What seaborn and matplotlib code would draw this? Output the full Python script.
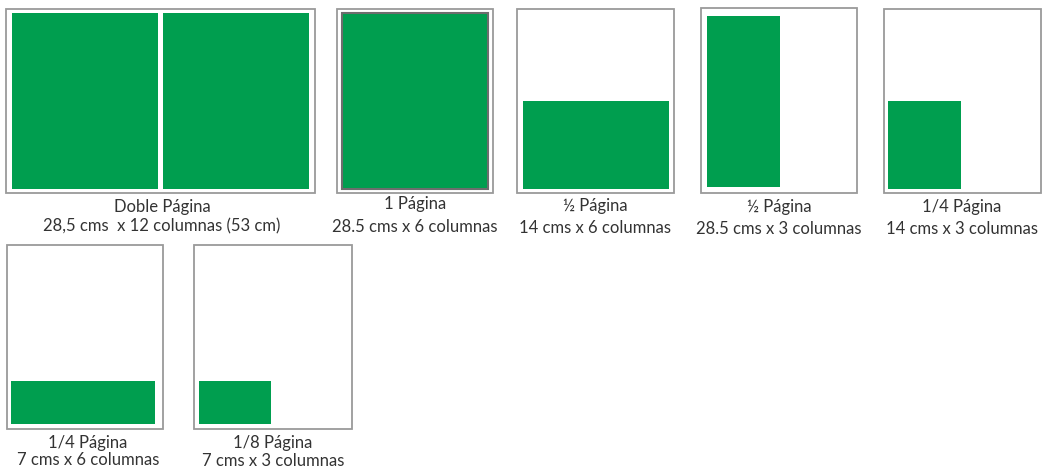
import matplotlib
matplotlib.use("Agg")
import matplotlib.pyplot as plt
import seaborn as sns

# page frames (left, top, right, bottom) in pixel units
frame_left = [6, 337, 517, 701, 884, 7, 194]
frame_top = [9, 9, 9, 8.5, 9, 245, 245]
frame_right = [315, 493, 674, 857, 1041, 163, 352]
frame_bottom = [193, 193, 193, 193, 193, 429, 429]

# green ad areas (left, top, right, bottom)
ad_left = [12, 163, 342, 523, 707, 888, 11, 199]
ad_top = [13, 13, 13, 101, 16, 101, 381, 381]
ad_right = [158, 309, 488, 669, 780, 961, 155, 271]
ad_bottom = [189, 189, 189, 189, 187, 189, 424, 424]
ad_edge = ["none", "none", "#6d6d6d", "none", "none", "none", "none", "none"]

# captions
titles = ["Doble Página", "1 Página", "½ Página", "½ Página",
          "1/4 Página", "1/4 Página", "1/8 Página"]
sizes = ["28,5 cms  x 12 columnas (53 cm)", "28.5 cms x 6 columnas",
         "14 cms x 6 columnas", "28.5 cms x 3 columnas",
         "14 cms x 3 columnas", "7 cms x 6 columnas", "7 cms x 3 columnas"]
title_x = [162, 415, 595, 779, 962, 88, 273]
title_y = [207, 204, 206, 207, 207, 443, 443]
size_y = [226, 227, 228, 229, 229, 460, 461]

sns.set_theme(style="white")
plt.rcParams["font.family"] = ["Lato", "DejaVu Sans"]

green = "#009e4f"
frame_color = "#9a9a9a"
text_color = "#333333"

fig = plt.figure(figsize=(10.42, 4.69), dpi=100)
ax = fig.add_axes([0, 0, 1, 1])

# frames
for i in range(len(frame_left)):
    ax.bar(frame_left[i], frame_bottom[i] - frame_top[i],
           width=frame_right[i] - frame_left[i], bottom=frame_top[i],
           align="edge", color="white", edgecolor=frame_color, linewidth=1.3)

# green areas
for i in range(len(ad_left)):
    ax.bar(ad_left[i], ad_bottom[i] - ad_top[i],
           width=ad_right[i] - ad_left[i], bottom=ad_top[i],
           align="edge", color=green,
           edgecolor=ad_edge[i], linewidth=1.5 if ad_edge[i] != "none" else 0)

for i in range(len(titles)):
    ax.text(title_x[i], title_y[i], titles[i], ha="center", va="center",
            fontsize=12, color=text_color)
    ax.text(title_x[i], size_y[i], sizes[i], ha="center", va="center",
            fontsize=12, color=text_color)

ax.set_xlim(0, 1042)
ax.set_ylim(469, 0)
ax.axis("off")

fig.savefig("out.png", dpi=100, facecolor="white")
